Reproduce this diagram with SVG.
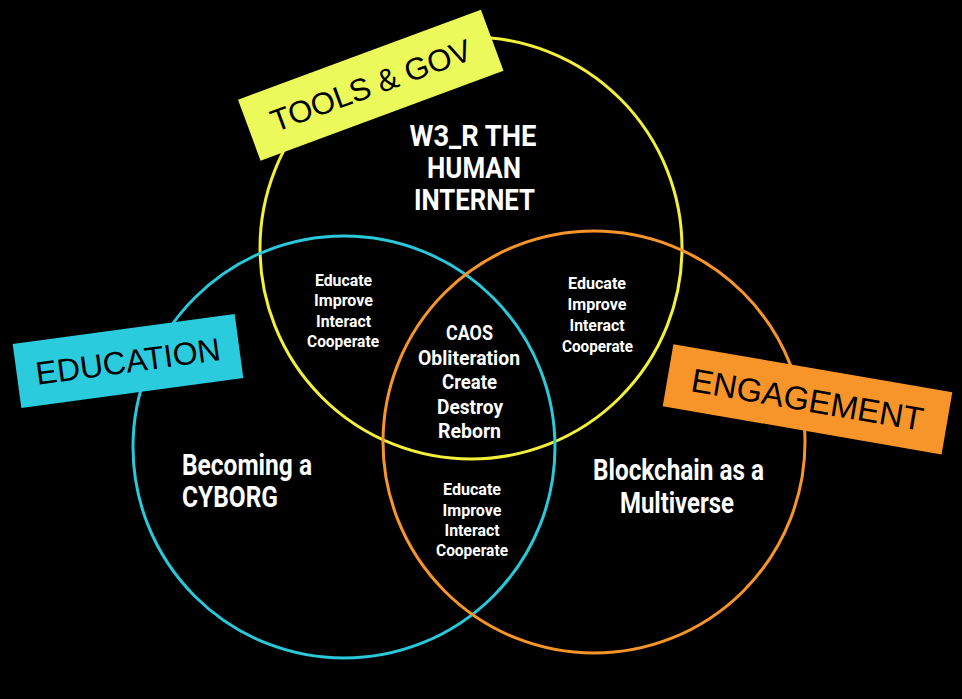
<svg xmlns="http://www.w3.org/2000/svg" width="962" height="699" viewBox="0 0 962 699">
  <style>
    .ring { fill: none; stroke-width: 3; }
    .t { font-family: Roboto, "DejaVu Sans", sans-serif; font-weight: bold; fill: #ffffff; text-anchor: middle; }
    .big { font-size: 29.5px; }
    .mid { font-size: 21px; }
    .sm { font-size: 17px; }
    .lab { font-family: "Liberation Sans", Arial, sans-serif; fill: #000000; text-anchor: middle; }
  </style>
  <rect x="0" y="0" width="962" height="699" fill="#000000"/>

  <g id="circle-tools">
    <circle class="ring" cx="471" cy="248" r="211" stroke="#f3f03c"/>
  </g>
  <g id="circle-education">
    <circle class="ring" cx="344" cy="447" r="211" stroke="#2ac8d9"/>
  </g>
  <g id="circle-engagement">
    <circle class="ring" cx="594" cy="442" r="211" stroke="#f7952b"/>
  </g>

  <g id="text-tools-only">
    <text class="t big" x="473" y="146" textLength="127" lengthAdjust="spacingAndGlyphs">W3_R THE</text>
    <text class="t big" x="474" y="178" textLength="94" lengthAdjust="spacingAndGlyphs">HUMAN</text>
    <text class="t big" x="474.5" y="210" textLength="121" lengthAdjust="spacingAndGlyphs">INTERNET</text>
  </g>

  <g id="text-tools-education">
    <text class="t sm" x="343.5" y="286" textLength="57" lengthAdjust="spacingAndGlyphs">Educate</text>
    <text class="t sm" x="343.5" y="306" textLength="59" lengthAdjust="spacingAndGlyphs">Improve</text>
    <text class="t sm" x="343.5" y="327" textLength="55" lengthAdjust="spacingAndGlyphs">Interact</text>
    <text class="t sm" x="343" y="347" textLength="72" lengthAdjust="spacingAndGlyphs">Cooperate</text>
  </g>

  <g id="text-tools-engagement">
    <text class="t sm" x="597" y="289" textLength="58" lengthAdjust="spacingAndGlyphs">Educate</text>
    <text class="t sm" x="597" y="310" textLength="59" lengthAdjust="spacingAndGlyphs">Improve</text>
    <text class="t sm" x="597" y="331" textLength="55" lengthAdjust="spacingAndGlyphs">Interact</text>
    <text class="t sm" x="597.5" y="352" textLength="71" lengthAdjust="spacingAndGlyphs">Cooperate</text>
  </g>

  <g id="text-education-engagement">
    <text class="t sm" x="472" y="495" textLength="58" lengthAdjust="spacingAndGlyphs">Educate</text>
    <text class="t sm" x="472" y="516" textLength="59" lengthAdjust="spacingAndGlyphs">Improve</text>
    <text class="t sm" x="472" y="536" textLength="55" lengthAdjust="spacingAndGlyphs">Interact</text>
    <text class="t sm" x="472" y="556" textLength="72" lengthAdjust="spacingAndGlyphs">Cooperate</text>
  </g>

  <g id="text-center">
    <text class="t mid" x="469.5" y="340" textLength="47" lengthAdjust="spacingAndGlyphs">CAOS</text>
    <text class="t mid" x="469" y="364.5" textLength="102" lengthAdjust="spacingAndGlyphs">Obliteration</text>
    <text class="t mid" x="469.5" y="389" textLength="55" lengthAdjust="spacingAndGlyphs">Create</text>
    <text class="t mid" x="470" y="413.5" textLength="66" lengthAdjust="spacingAndGlyphs">Destroy</text>
    <text class="t mid" x="469.5" y="438" textLength="63" lengthAdjust="spacingAndGlyphs">Reborn</text>
  </g>

  <g id="text-education-only">
    <text class="t big" x="182" y="475" style="text-anchor:start" textLength="130" lengthAdjust="spacingAndGlyphs">Becoming a</text>
    <text class="t big" x="182" y="507" style="text-anchor:start" textLength="96" lengthAdjust="spacingAndGlyphs">CYBORG</text>
  </g>

  <g id="text-engagement-only">
    <text class="t big" x="678.5" y="480" textLength="171" lengthAdjust="spacingAndGlyphs">Blockchain as a</text>
    <text class="t big" x="677" y="513" textLength="114" lengthAdjust="spacingAndGlyphs">Multiverse</text>
  </g>

  <g id="label-tools" transform="translate(370.75,85.25) rotate(-20.3)">
    <rect x="-129.5" y="-32.5" width="259" height="65" fill="#ebf95a"/>
    <text class="lab" x="0" y="11" font-size="31">TOOLS &amp; GOV</text>
  </g>
  <g id="label-education" transform="translate(128,361) rotate(-7.7)">
    <rect x="-112" y="-32.25" width="224" height="64.5" fill="#2acbdd"/>
    <text class="lab" x="0" y="11.5" font-size="32">EDUCATION</text>
  </g>
  <g id="label-engagement" transform="translate(807.5,399.25) rotate(9.8)">
    <rect x="-141.5" y="-31.5" width="283" height="63" fill="#f7952b"/>
    <text class="lab" x="0" y="12" font-size="33">ENGAGEMENT</text>
  </g>
</svg>
